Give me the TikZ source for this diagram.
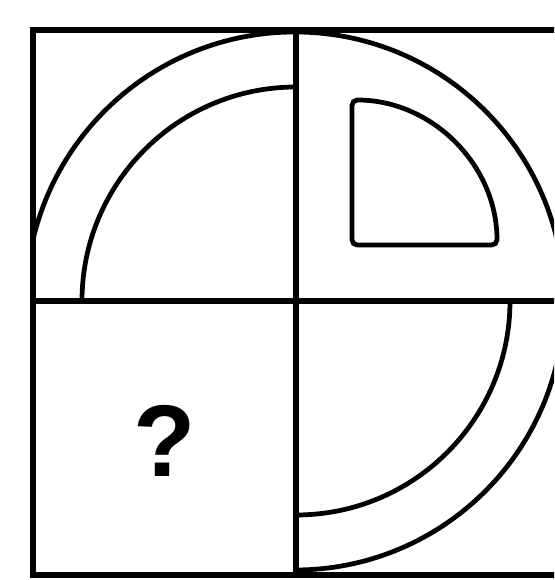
\documentclass[tikz,border=0pt]{standalone}
\usepackage{fontspec}
\setmainfont{Liberation Sans}
\usetikzlibrary{positioning}
\definecolor{inkblack}{RGB}{0,0,0}
\tikzset{
  frameline/.style={
    draw=inkblack,
    line width=3.2pt
  },
  curveline/.style={
    draw=inkblack,
    line width=2.7pt
  },
  qmark/.style={
    font=\fontsize{58}{60}\selectfont\bfseries,
    text=inkblack,
    inner sep=0pt
  }
}

\begin{document}
\begin{tikzpicture}[x=0.02cm, y=0.02cm]
    \clip (0,0) rectangle (554,580);
    \fill[white] (0,0) rectangle (554,580);

    \coordinate (mid) at (296,279);
    \coordinate (ctr) at (295,279);

    % outer ring, cut by the frame
    \begin{scope}
      \clip (33,5) rectangle (559,550);
      \draw[curveline] (ctr) ++(-90:269) arc[start angle=-90, end angle=180, radius=269];
    \end{scope}

    % inner arcs
    \draw[curveline] (mid) ++(180:214) arc[start angle=180, end angle=90, radius=214];
    \draw[curveline] (mid) ++(0:214) arc[start angle=0, end angle=-90, radius=214];

    % quarter piece in the top right cell
    \coordinate (corner) at (352,335);
    \draw[curveline, rounded corners=3pt]
      (corner) -- ++(145,0) arc[start angle=0, end angle=90, radius=145] -- cycle;

    \node[qmark] (ask) at (165,139) {?};

    % grid
    \draw[frameline] (33,5) rectangle (559,550);
    \draw[frameline] (33,279) -- (559,279);
    \draw[frameline] (296,5) -- (296,550);
  \end{tikzpicture}
\end{document}
